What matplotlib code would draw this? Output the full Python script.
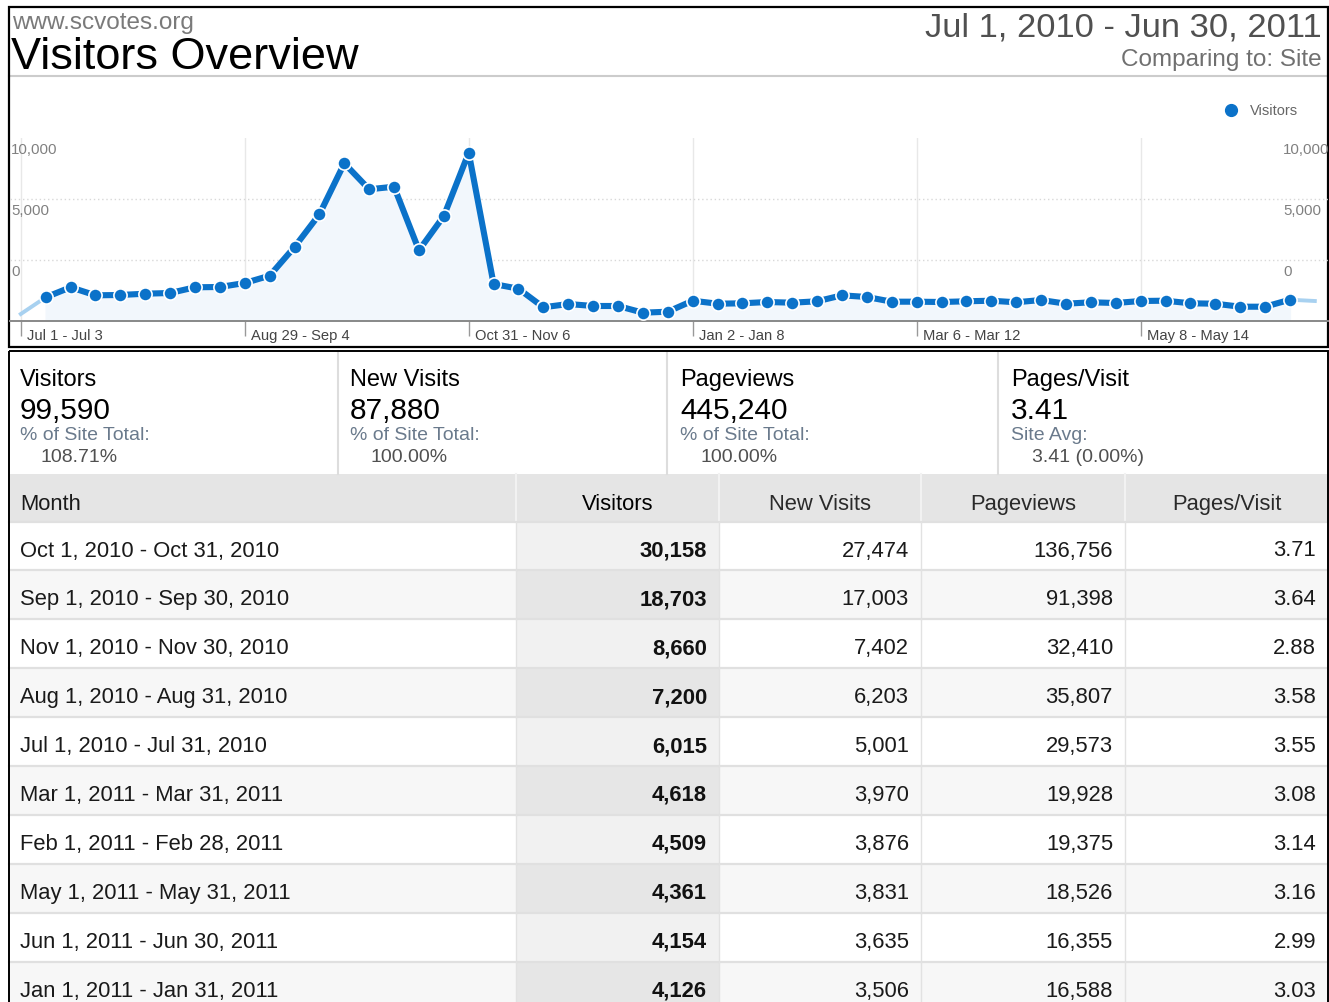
import matplotlib
matplotlib.use("Agg")
import matplotlib.pyplot as plt
from matplotlib.patches import Rectangle

plt.rcParams['font.family'] = ['Liberation Sans', 'DejaVu Sans']

W, H = 1329, 1003

# visiteurs par semaine, 1 juil 2010 - 30 juin 2011 (premiere et derniere semaines partielles)
weekly_visitors = [383, 1295, 1842, 1404, 1421, 1492, 1530, 1842, 1858, 2077,
                   2475, 4044, 5831, 8617, 7197, 7339, 3863, 5738, 9197, 2022,
                   1765, 749, 929, 820, 820, 454, 508, 1109, 945, 967,
                   1038, 1000, 1077, 1404, 1311, 1055, 1055, 1038, 1077, 1109,
                   1022, 1148, 945, 1022, 984, 1093, 1109, 967, 945, 781,
                   781, 1164, 1093]
week_ticks = [0, 9, 18, 27, 36, 45]
week_tick_labels = ['Jul 1 - Jul 3', 'Aug 29 - Sep 4', 'Oct 31 - Nov 6',
                    'Jan 2 - Jan 8', 'Mar 6 - Mar 12', 'May 8 - May 14']
y_grid = [10000 / 3, 20000 / 3, 10000]
y_labels = ['0', '5,000', '10,000']

summary_titles = ['Visitors', 'New Visits', 'Pageviews', 'Pages/Visit']
summary_values = ['99,590', '87,880', '445,240', '3.41']
summary_notes = ['% of Site Total:', '% of Site Total:', '% of Site Total:', 'Site Avg:']
summary_pcts = ['108.71%', '100.00%', '100.00%', '3.41 (0.00%)']

columns = ['Month', 'Visitors', 'New Visits', 'Pageviews', 'Pages/Visit']
months = ['Oct 1, 2010 - Oct 31, 2010', 'Sep 1, 2010 - Sep 30, 2010',
          'Nov 1, 2010 - Nov 30, 2010', 'Aug 1, 2010 - Aug 31, 2010',
          'Jul 1, 2010 - Jul 31, 2010', 'Mar 1, 2011 - Mar 31, 2011',
          'Feb 1, 2011 - Feb 28, 2011', 'May 1, 2011 - May 31, 2011',
          'Jun 1, 2011 - Jun 30, 2011', 'Jan 1, 2011 - Jan 31, 2011']
visitors = [30158, 18703, 8660, 7200, 6015, 4618, 4509, 4361, 4154, 4126]
new_visits = [27474, 17003, 7402, 6203, 5001, 3970, 3876, 3831, 3635, 3506]
pageviews = [136756, 91398, 32410, 35807, 29573, 19928, 19375, 18526, 16355, 16588]
pages_per_visit = [3.71, 3.64, 2.88, 3.58, 3.55, 3.08, 3.14, 3.16, 2.99, 3.03]

BLUE = '#0b72c9'

fig = plt.figure(figsize=(W / 100, H / 100), dpi=100)
bg = fig.add_axes([0, 0, 1, 1])
bg.set_xlim(0, W)
bg.set_ylim(H, 0)
bg.axis('off')

# --- en-tete
bg.text(12, 29, 'www.scvotes.org', fontsize=17.5, color='#7a7a7a', va='baseline')
bg.text(11, 69, 'Visitors Overview', fontsize=32.5, color='black', va='baseline')
bg.text(1322, 36, 'Jul 1, 2010 - Jun 30, 2011', fontsize=24.8, color='#505050',
        ha='right', va='baseline')
bg.text(1322, 66, 'Comparing to: Site', fontsize=17.5, color='#707070',
        ha='right', va='baseline')
bg.plot([9, 1328], [77, 77], color='#cccccc', lw=1.5)

# legende
bg.plot([1231], [111], 'o', color=BLUE, ms=8.5)
bg.text(1250, 111, 'Visitors', fontsize=10.5, color='#666666', va='center')

# cadres
bg.add_patch(Rectangle((8.5, 8), 1319.5, 340, fill=False, ec='black', lw=1.6, zorder=5))
bg.add_patch(Rectangle((8.5, 351.5), 1319.5, 700, fill=False, ec='black', lw=1.4, zorder=5))

# --- graphique
ax = fig.add_axes([10 / W, (H - 322) / H, 1318 / W, 183 / H])
ax.patch.set_alpha(0)
x = list(range(len(weekly_visitors)))
ax.fill_between(x[1:52], weekly_visitors[1:52], color='#f2f7fc', zorder=1)
ax.plot(x[0:2], weekly_visitors[0:2], color='#a8d1f0', lw=2.8, zorder=2)
ax.plot(x[51:53], weekly_visitors[51:53], color='#a8d1f0', lw=2.8, zorder=2)
ax.plot(x[1:52], weekly_visitors[1:52], color=BLUE, lw=4.4, marker='o', ms=9.5,
        mfc=BLUE, mec='white', mew=1.2, zorder=3)
for t in week_ticks:
    ax.axvline(t, color='#e8e8e8', lw=1, zorder=0)
for v in y_grid[:2]:
    ax.axhline(v, color='#d8d8d8', lw=1, ls=(0, (1, 2)), zorder=0)
ax.set_xlim(-0.434, 52.53)
ax.set_ylim(0, 10000)
for s in ['top', 'left', 'right']:
    ax.spines[s].set_visible(False)
ax.spines['bottom'].set_color('#888888')
ax.spines['bottom'].set_linewidth(1.4)
ax.set_xticks(week_ticks)
ax.set_xticklabels([])
ax.set_yticks([])
ax.tick_params(axis='x', direction='out', length=11, width=1, color='#999999')
for t, lab in zip(week_ticks, week_tick_labels):
    ax.annotate(lab, xy=(t, 0), xycoords=('data', 'axes fraction'), xytext=(6, -14),
                textcoords='offset pixels', ha='left', va='center',
                fontsize=10.6, color='#444444')
for v, lab in zip(y_grid, y_labels):
    ax.annotate(lab, xy=(0, v), xycoords=('axes fraction', 'data'), xytext=(1, -11),
                textcoords='offset pixels', ha='left', va='center',
                fontsize=10.8, color='#808080')
    ax.annotate(lab, xy=(0.9659, v), xycoords=('axes fraction', 'data'), xytext=(0, -11),
                textcoords='offset pixels', ha='left', va='center',
                fontsize=10.8, color='#808080')

# --- resume
sum_x = [20, 350, 680, 1011]
for i in range(4):
    sx = sum_x[i]
    bg.text(sx, 386, summary_titles[i], fontsize=17, color='black', va='baseline')
    bg.text(sx, 419, summary_values[i], fontsize=21.5, color='black', va='baseline')
    bg.text(sx, 440, summary_notes[i], fontsize=14, color='#6a7a8c', va='baseline')
    bg.text(sx + 21, 462, summary_pcts[i], fontsize=14, color='#505050', va='baseline')
for sx in [338, 667, 998]:
    bg.plot([sx, sx], [352, 475], color='#dddddd', lw=1.5)

# --- tableau
col_edges = [9, 516, 719, 921, 1125, 1328]
head_top, head_bot = 475, 522.5
row_h = 48.9
bg.add_patch(Rectangle((9, head_top), 1319, head_bot - head_top, color='#e5e5e5', lw=0))
for ce in col_edges[1:-1]:
    bg.plot([ce, ce], [head_top, head_bot], color='#f2f2f2', lw=1.5)
bg.text(20, 510, columns[0], fontsize=15.8, color='#1a1a1a', va='baseline')
for j in range(1, 5):
    cx = (col_edges[j] + col_edges[j + 1]) / 2
    bg.text(cx, 510, columns[j], fontsize=15.8, color='black' if j == 1 else '#2a2a2a',
            ha='center', va='baseline')

for k in range(len(months)):
    y0 = head_bot + row_h * k
    row_col = '#ffffff' if k % 2 == 0 else '#f7f7f7'
    sort_col = '#f1f1f1' if k % 2 == 0 else '#e6e6e6'
    bg.add_patch(Rectangle((9, y0), 1319, row_h, color=row_col, lw=0))
    bg.add_patch(Rectangle((col_edges[1], y0), col_edges[2] - col_edges[1], row_h,
                           color=sort_col, lw=0))
    bg.plot([9, 1328], [y0, y0], color='#e0e0e0', lw=1.6)
    for ce in col_edges[1:-1]:
        bg.plot([ce, ce], [y0, y0 + row_h], color='#e2e2e2', lw=1)
    yb = y0 + 34
    bg.text(20, yb, months[k], fontsize=15.8, color='#1a1a1a', va='baseline')
    bg.text(707, yb, f'{visitors[k]:,}', fontsize=15.8, color='#111111',
            fontweight='bold', ha='right', va='baseline')
    bg.text(909, yb, f'{new_visits[k]:,}', fontsize=15.8, color='#1a1a1a',
            ha='right', va='baseline')
    bg.text(1113, yb, f'{pageviews[k]:,}', fontsize=15.8, color='#1a1a1a',
            ha='right', va='baseline')
    bg.text(1316, yb, f'{pages_per_visit[k]:.2f}', fontsize=15.8, color='#1a1a1a',
            ha='right', va='baseline')

fig.savefig('out.png', dpi=100)
